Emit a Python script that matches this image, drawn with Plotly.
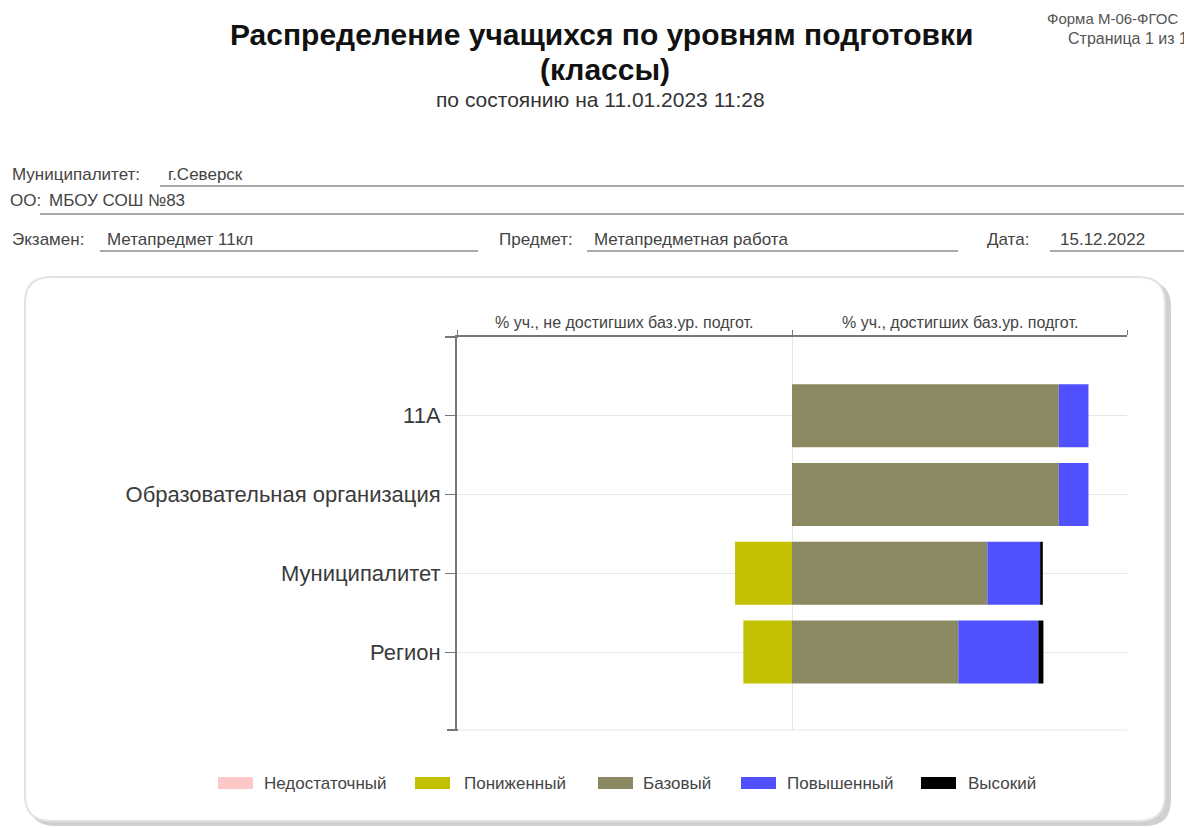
import plotly.graph_objects as go

# ---------------- data ----------------
categories = ["11А", "Образовательная организация", "Муниципалитет", "Регион"]
levels = ["Недостаточный", "Пониженный", "Базовый", "Повышенный", "Высокий"]
nedostatochny = [0, 0, 0, 0]
ponizhenny = [0, 0, 19.2, 16.4]
bazovy = [90.0, 90.0, 65.9, 56.1]
povyshenny = [10.0, 10.0, 17.8, 27.0]
vysoky = [0, 0, 0.9, 1.7]
half_labels = ["% уч., не достигших баз.ур. подгот.", "% уч., достигших баз.ур. подгот."]

colors = ["#ffc8c8", "#c2c000", "#8b8962", "#5050ff", "#000000"]
R = 113

OFF = 8  # page body margin
W, H = 1192 - OFF, 828 - OFF
def px(x):
    return (x - OFF) / W
def py(y):
    return 1 - (y - OFF) / H

FONT = "Liberation Sans, Arial, sans-serif"

fig = go.Figure()
series = [
    (levels[0], [-v for v in nedostatochny]),
    (levels[1], [-v for v in ponizhenny]),
    (levels[2], bazovy),
    (levels[3], povyshenny),
    (levels[4], vysoky),
]
for (name, vals), c in zip(series, colors):
    fig.add_trace(go.Bar(
        y=categories, x=vals, name=name, orientation="h",
        marker=dict(color=c, line=dict(width=0)), width=0.8,
        showlegend=False, hoverinfo="x+name",
    ))

L, Rr, T, B = 457, 1127, 337, 730
fig.update_layout(
    width=W, height=H,
    margin=dict(l=0, r=0, t=0, b=0),
    paper_bgcolor="white", plot_bgcolor="white",
    barmode="relative", bargap=0.2,
    font=dict(family=FONT, color="#333"),
    xaxis=dict(
        domain=[px(L), px(Rr)], range=[-R, R], side="top",
        tickvals=[-R, 0, R], ticktext=["", "", ""], ticks="outside", ticklen=5,
        tickcolor="#777", showline=True, linecolor="#777", linewidth=2,
        showgrid=True, gridcolor="#e6e6e6", gridwidth=1, zeroline=False,
        fixedrange=True,
    ),
    yaxis=dict(
        domain=[py(B), py(T)], range=[3.99, -1], type="category",
        categoryorder="array", categoryarray=categories,
        ticks="outside", ticklen=10, tickcolor="#777",
        showline=True, linecolor="#777", linewidth=2,
        showgrid=True, gridcolor="#e6e6e6",
        tickfont=dict(size=22, color="#3a3a3a", family=FONT),
        fixedrange=True,
    ),
)

shapes = []
def rrect(x0, y0, x1, y1, r):
    X0, X1 = px(x0), px(x1)
    Y0, Y1 = py(y0), py(y1)
    rx, ry = r / W, r / H
    return (f"M {X0+rx},{Y0} L {X1-rx},{Y0} Q {X1},{Y0} {X1},{Y0-ry} "
            f"L {X1},{Y1+ry} Q {X1},{Y1} {X1-rx},{Y1} L {X0+rx},{Y1} "
            f"Q {X0},{Y1} {X0},{Y1+ry} L {X0},{Y0-ry} Q {X0},{Y0} {X0+rx},{Y0} Z")
shapes.append(dict(type="path", xref="paper", yref="paper", layer="below",
                   path=rrect(29, 281, 1171, 826, 26), fillcolor="#d0d0d0",
                   line=dict(width=0)))
shapes.append(dict(type="path", xref="paper", yref="paper", layer="below",
                   path=rrect(25, 277, 1165, 821, 26), fillcolor="white",
                   line=dict(color="#e2e2e2", width=2)))
# axis extras
shapes.append(dict(type="line", xref="paper", yref="paper", x0=px(445), x1=px(458),
                   y0=py(T), y1=py(T), line=dict(color="#777", width=2)))
shapes.append(dict(type="line", xref="paper", yref="paper", x0=px(447), x1=px(458),
                   y0=py(B), y1=py(B), line=dict(color="#777", width=2)))
shapes.append(dict(type="line", xref="paper", yref="paper", x0=px(L), x1=px(Rr),
                   y0=py(B), y1=py(B), line=dict(color="#e6e6e6", width=1), layer="below"))

# form underlines
for (x0, x1, y) in [(160, 1192, 186), (40, 1192, 214), (100, 478, 251), (587, 958, 251), (1050, 1192, 251)]:
    shapes.append(dict(type="line", xref="paper", yref="paper", x0=px(x0), x1=px(x1),
                       y0=py(y), y1=py(y), line=dict(color="#555", width=1)))

# legend swatches
leg_pos = [(218, 262), (415, 462), (598, 641), (741, 785), (921, 966)]
for (sx, tx), c in zip(leg_pos, colors):
    shapes.append(dict(type="rect", xref="paper", yref="paper",
                       x0=px(sx), x1=px(sx + 35), y0=py(789), y1=py(777),
                       fillcolor=c, line=dict(width=0)))

annotations = []
def text(x, y, s, size, anchor="left", color="#333", bold=False, yanchor="middle"):
    annotations.append(dict(xref="paper", yref="paper", x=px(x), y=py(y), text=(f"<b>{s}</b>" if bold else s),
                            showarrow=False, xanchor=anchor, yanchor=yanchor,
                            font=dict(size=size, color=color, family=FONT)))

text(601, 34, "Распределение учащихся по уровням подготовки", 30, "center", "#111", True)
text(605, 70, "(классы)", 30, "center", "#111", True)
text(600, 100, "по состоянию на 11.01.2023 11:28", 21, "center", "#333")
text(1045, 18, "Форма М-06-ФГОС", 15, "left", "#555")
text(1190, 38, "Страница 1 из 1", 16, "right", "#555")

FS = 17
text(10, 175, "Муниципалитет:", FS, "left", "#444")
text(166, 175, "г.Северск", FS, "left", "#444")
text(8, 200, "ОО:", FS, "left", "#444")
text(47, 200, "МБОУ СОШ №83", FS, "left", "#444")
text(10, 239, "Экзамен:", FS, "left", "#444")
text(105, 239, "Метапредмет 11кл", FS, "left", "#444")
text(497, 239, "Предмет:", FS, "left", "#444")
text(592, 239, "Метапредметная работа", FS, "left", "#444")
text(985, 239, "Дата:", FS, "left", "#444")
text(1058, 239, "15.12.2022", FS, "left", "#444")

text((L + 792) / 2, 322, half_labels[0], 16, "center", "#444")
text((792 + Rr) / 2, 322, half_labels[1], 16, "center", "#444")

for (sx, tx), name in zip(leg_pos, levels):
    text(tx, 783, name, 17, "left", "#444")

fig.update_layout(shapes=shapes, annotations=annotations)
fig.write_html("out.html")
